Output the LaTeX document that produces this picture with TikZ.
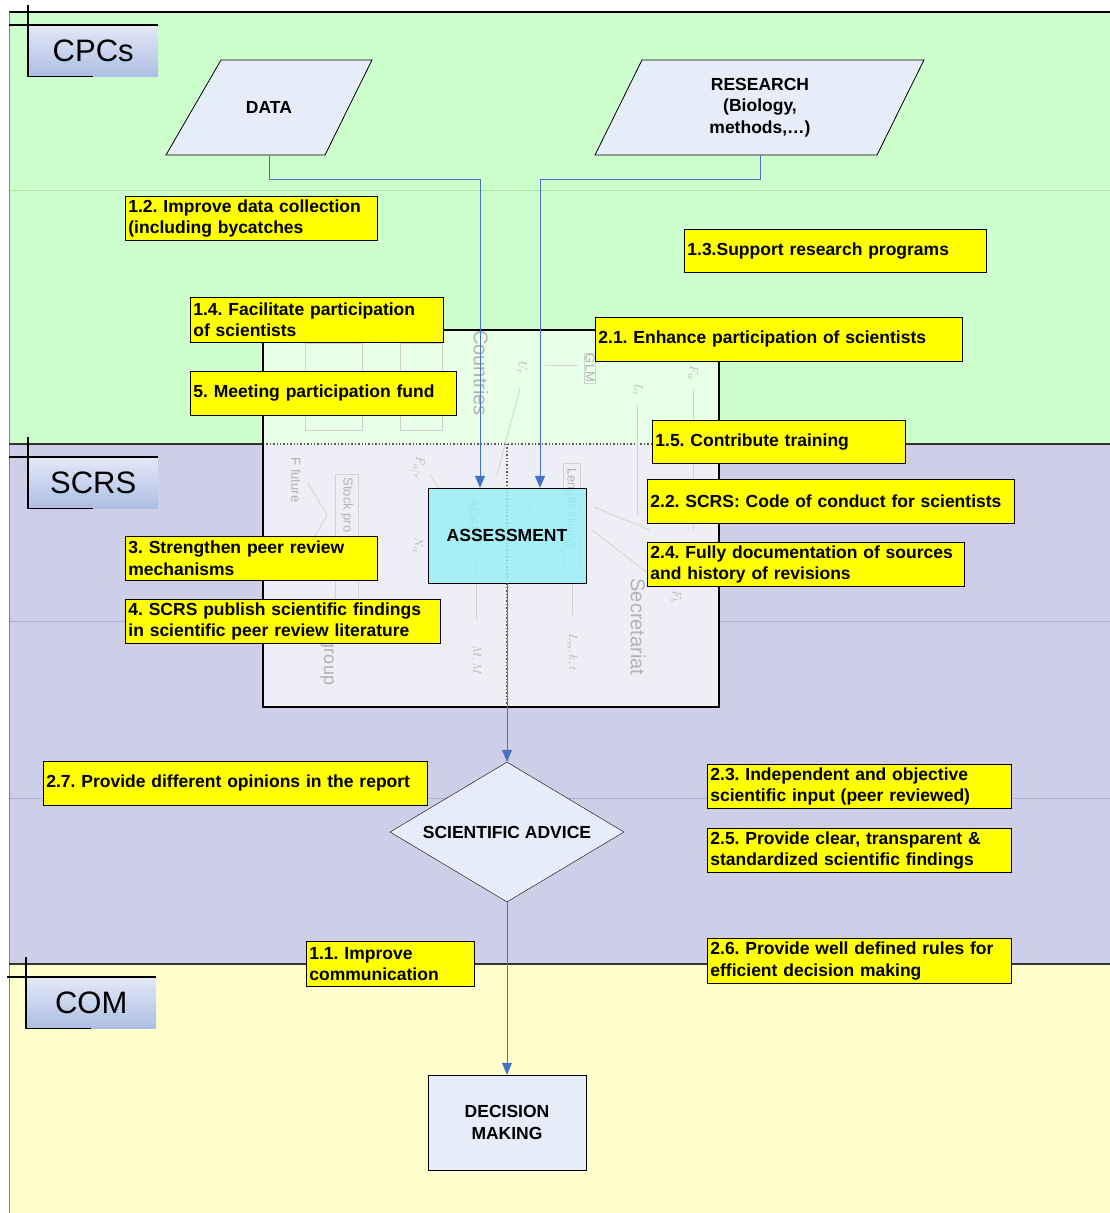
\documentclass[tikz,border=0pt]{standalone}
\usepackage{fontspec}
\setmainfont{Liberation Sans}
\usetikzlibrary{shapes.geometric,arrows.meta}
\frenchspacing

\definecolor{lanegreen}{RGB}{204,255,204}
\definecolor{lanelav}{RGB}{206,206,232}
\definecolor{laneyel}{RGB}{255,255,206}
\definecolor{gridgreen}{RGB}{170,232,170}
\definecolor{gridlav}{RGB}{172,172,212}
\definecolor{titletop}{RGB}{226,233,246}
\definecolor{titlebot}{RGB}{174,190,228}
\definecolor{shapefill}{RGB}{231,237,248}
\definecolor{assesscyan}{RGB}{150,240,248}
\definecolor{flowblue}{RGB}{68,114,196}
\definecolor{goalyellow}{RGB}{255,255,0}
\definecolor{imggreen}{RGB}{232,255,232}
\definecolor{imglav}{RGB}{238,238,247}

\begin{document}
\begin{tikzpicture}[x=1pt,y=-1pt,
    lanetitle/.style={anchor=north west, minimum width=130, minimum height=51, inner sep=0pt,
      top color=titletop, bottom color=titlebot, font=\fontsize{31}{31}\selectfont},
    cross/.style={line width=1.6pt, black},
    flowtxt/.style={font=\fontsize{17.5}{21.5}\selectfont\bfseries, align=center},
    iobox/.style={draw, line width=0.8pt, fill=shapefill},
    goal/.style={draw, line width=0.8pt, fill=goalyellow, anchor=north west, align=left,
      inner xsep=3pt, inner ysep=0pt, minimum height=44,
      font=\fontsize{17.5}{21.5}\selectfont\bfseries},
    flow/.style={flowblue, line width=0.8pt, -{Triangle[width=10pt,length=12pt]}},
    faint/.style={gray!60, font=\fontsize{13}{13}\selectfont, inner sep=1pt},
    faintline/.style={gray!35, line width=0.8pt},
  ]
  \useasboundingbox (0,0) rectangle (1110,1213);

  % swim lanes
  \fill[lanegreen] (9,12) rectangle (1110,444);
  \fill[lanelav] (9,444) rectangle (1110,964);
  \fill[laneyel] (9,964) rectangle (1110,1213);
  \draw[gridgreen, line width=0.7pt] (9,190) -- (1110,190);
  \draw[gridlav, line width=0.7pt] (9,621) -- (1110,621);
  \draw[gridlav, line width=0.7pt] (9,798) -- (1110,798);
  \draw[line width=1.2pt] (9,12) -- (1110,12);
  \draw[gray, line width=1pt] (9,12) -- (9,1213);
  \draw[black!80, line width=1.4pt] (9,444) -- (1110,444);
  \draw[black!80, line width=1.4pt] (9,964) -- (1110,964);

  % lane titles
  \node[lanetitle] (cpcs) at (28,25) {CPCs};
  \node[lanetitle] (scrs) at (28,457) {SCRS};
  \node[lanetitle] (com) at (26,977) {COM};
  \foreach \t in {cpcs,scrs,com} {
    \draw[cross] ([yshift=20pt]\t.north west) -- (\t.south west) -- ++(65,0);
    \draw[cross] ([xshift=-19pt]\t.north west) -- (\t.north east);
  }

  % embedded model picture (faded)
  \fill[imggreen] (263,330) rectangle (719,444);
  \fill[imglav] (263,444) rectangle (719,707);
  \draw[gray!70!black, dotted, line width=1.4pt] (263,444) -- (719,444);
  \draw[gray!70!black, dotted, line width=1.4pt] (507,444) -- (507,707);
  \draw[faintline] (305,343) rectangle (362,430);
  \draw[faintline] (400,343) rectangle (442,430);
  \draw[faintline] (335,474) rectangle (358,600);
  \draw[faintline] (563,463) rectangle (580,570);
  \draw[faintline] (520,388) -- (497,475);
  \draw[faintline] (578,365) -- (545,365);
  \draw[faintline] (637,405) -- (637,515);
  \draw[faintline] (693,390) -- (693,530);
  \draw[faintline] (594,507) -- (650,530);
  \draw[faintline] (592,530) -- (650,575);
  \draw[faintline] (308,483) -- (327,515) -- (310,545);
  \draw[faintline] (430,475) -- (460,520);
  \draw[faintline] (476,560) -- (476,620);
  \draw[faintline] (572,580) -- (572,615);
  \node[faint, rotate=-90, font=\fontsize{20}{20}\selectfont] (img-countries) at (481,373) {Countries};
  \node[faint, rotate=-90, font=\fontsize{20}{20}\selectfont] (img-secretariat) at (638,627) {Secretariat};
  \node[faint, rotate=-90] (img-length) at (571,508) {Length slicing};
  \node[faint, rotate=-90] (img-stock) at (347,505) {Stock pro};
  \node[faint, rotate=-90, font=\fontsize{18}{18}\selectfont] (img-group) at (327,662) {group};
  \node[faint, rotate=-90, draw=gray!35] (img-glm) at (590,368) {GLM};
  \node[faint, rotate=-90] (img-adapt) at (474,521) {ADAPT};
  \node[faint, rotate=-90] (img-ur) at (522,368) {$U_r$};
  \node[faint, rotate=-90] (img-lr) at (638,390) {$L_r$};
  \node[faint, rotate=-90] (img-fw) at (693,373) {$F_w$};
  \node[faint, rotate=-90] (img-ff) at (296,480) {F future};
  \node[faint, rotate=-90] (img-far) at (418,468) {$F_{a/r}$};
  \node[faint, rotate=-90] (img-na) at (418,545) {$N_a$};
  \node[faint, rotate=-90] (img-mm) at (476,660) {$M, M$};
  \node[faint, rotate=-90] (img-lkt) at (572,652) {$L_m, k, t$};
  \node[faint, rotate=-90] (img-fb) at (676,597) {$F_b$};
  \node[faint, rotate=-90] (img-co) at (527,510) {$C_o$};
  \draw[line width=1.2pt] (263,330) rectangle (719,707);

  % flow
  \draw[iobox] (166,155) -- (221,60) -- (372,60) -- (325,155) -- cycle;
  \draw[iobox] (595,155) -- (642,60) -- (924,60) -- (877,155) -- cycle;
  \node[flowtxt, minimum height=95, inner sep=0pt] (data) at (269,107.5) {DATA};
  \node[flowtxt, minimum height=95, inner sep=0pt] (research) at (760,107.5) {RESEARCH\\(Biology,\\methods,…)};
  \node[flowtxt, draw, fill=assesscyan, fill opacity=0.8, text opacity=1, minimum width=158,
    minimum height=95, inner sep=0pt] (assess) at (507,535.5) {ASSESSMENT};
  \node[flowtxt, diamond, draw, fill=shapefill, minimum width=234, minimum height=140,
    inner sep=0pt, shape aspect=1.67] (advice) at (507,832) {SCIENTIFIC ADVICE};
  \node[flowtxt, draw, fill=shapefill, minimum width=158, minimum height=95] (decision)
    at (507,1122.5) {DECISION\\MAKING};

  \coordinate (dturn) at (480,179);
  \coordinate (rturn) at (540,179);
  \draw[flow] (data.south) |- (dturn) -- (dturn |- assess.north);
  \draw[flow] (research.south) |- (rturn) -- (rturn |- assess.north);
  \draw[flow] (assess.south) -- (advice.north);
  \draw[flow] (advice.south) -- (decision.north);

  % goals
  \node[goal, text width=246pt] (g12) at (125,196) {1.2. Improve data collection\\(including bycatches};
  \node[goal, text width=296pt, minimum height=43] (g13) at (684,229) {1.3.Support research programs};
  \node[goal, text width=247pt, minimum height=45] (g14) at (190,297) {1.4. Facilitate participation\\of scientists};
  \node[goal, text width=361pt] (g21) at (595,317) {2.1. Enhance participation of scientists};
  \node[goal, text width=260pt] (g5) at (190,371) {5. Meeting participation fund};
  \node[goal, text width=247pt, minimum height=43] (g15) at (652,420) {1.5. Contribute training};
  \node[goal, text width=361pt] (g22) at (647,479) {2.2. SCRS: Code of conduct for scientists};
  \node[goal, text width=246pt] (g3) at (125,536) {3. Strengthen peer review\\mechanisms};
  \node[goal, text width=311pt] (g24) at (647,542) {2.4. Fully documentation of sources\\and history of revisions};
  \node[goal, text width=309pt] (g4) at (125,599) {4. SCRS publish scientific findings\\in scientific peer review literature};
  \node[goal, text width=378pt] (g27) at (43,761) {2.7. Provide different opinions in the report};
  \node[goal, text width=298pt] (g23) at (707,764) {2.3. Independent and objective\\scientific input (peer reviewed)};
  \node[goal, text width=298pt] (g25) at (707,828) {2.5. Provide clear, transparent \&\\standardized scientific findings};
  \node[goal, text width=162pt, minimum height=45] (g11) at (306,941) {1.1. Improve\\communication};
  \node[goal, text width=298pt, minimum height=45] (g26) at (707,938) {2.6. Provide well defined rules for\\efficient decision making};
\end{tikzpicture}
\end{document}
